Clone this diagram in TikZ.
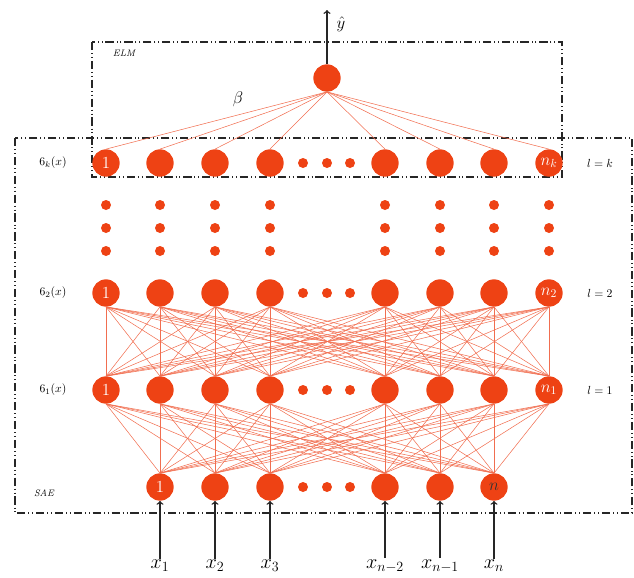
\documentclass[tikz,border=0pt]{standalone}
\definecolor{neuronred}{RGB}{238,66,20}
\definecolor{linkred}{RGB}{241,110,80}
\begin{document}
\begin{tikzpicture}[x=0.03cm, y=-0.03cm,
    neuron/.style={circle, fill=neuronred, minimum size=0.82cm, inner sep=0pt, text=white, font=\Large},
    link/.style={linkred, line width=0.45pt},
    frame/.style={black!85, line width=1.2pt, dash pattern=on 7pt off 2.5pt on 0.8pt off 2.5pt on 0.8pt off 2.5pt},
    inarrow/.style={->, black!85, line width=1.2pt},
    side/.style={font=\normalsize}
]
\useasboundingbox (0,0) rectangle (634,577);

% Frames
\draw[frame] (15,138) rectangle (632,513);
\draw[frame] (92,42) rectangle (562,177);
\node[font=\footnotesize\itshape] (elm) at (124,53) {ELM};
\node[font=\footnotesize\itshape] (sae) at (44,493) {SAE};

% Hidden layers
\foreach \x [count=\i] in {106,160,215,270,385,440,494,549}{
  \node[neuron] (k\i) at (\x,163) {\ifnum\i=1 1\fi\ifnum\i=8 $n_k$\fi};
  \node[neuron] (b\i) at (\x,293) {\ifnum\i=1 1\fi\ifnum\i=8 $n_2$\fi};
  \node[neuron] (a\i) at (\x,390) {\ifnum\i=1 1\fi\ifnum\i=8 $n_1$\fi};
  \foreach \y in {205,228,251} \fill[neuronred] (\x,\y) circle[radius=0.15cm];
}

% Input layer
\foreach \x/\t [count=\i] in {160/x_1,215/x_2,270/x_3,385/x_{n-2},440/x_{n-1},494/x_n}{
  \node[neuron] (in\i) at (\x,487) {\ifnum\i=1 1\fi\ifnum\i=6 \textcolor{black!80}{$n$}\fi};
  \node[font=\LARGE, inner sep=1pt] (x\i) at (\x,566) {$\t$};
  \draw[inarrow] (x\i.north) -- (in\i.south);
}

% Horizontal dots
\foreach \y in {163,293,390,487}
  \foreach \x in {303,327,350} \fill[neuronred] (\x,\y) circle[radius=0.15cm];

% Output
\node[neuron] (out) at (327,78) {};
\coordinate (top) at (327,10);
\draw[inarrow] (out.north) -- (top);
\node[font=\Large] (yhat) at (341,24) {$\hat{y}$};
\node[font=\Large] (beta) at (238,99) {$\beta$};

% Connections
\foreach \i in {1,...,8}{
  \draw[link] (k\i.north) -- (out.south);
  \foreach \j in {1,...,8} \draw[link] (a\i.north) -- (b\j.south);
  \foreach \j in {1,...,6} \draw[link] (in\j.north) -- (a\i.south);
}

% Labels
\node[side] (sk) at (53,163) {$6_k(x)$};
\node[side] (s2) at (53,293) {$6_2(x)$};
\node[side] (s1) at (53,390) {$6_1(x)$};
\node[side] (lk) at (600,163) {$l = k$};
\node[side] (l2) at (600,293) {$l = 2$};
\node[side] (l1) at (600,390) {$l = 1$};
\end{tikzpicture}
\end{document}
